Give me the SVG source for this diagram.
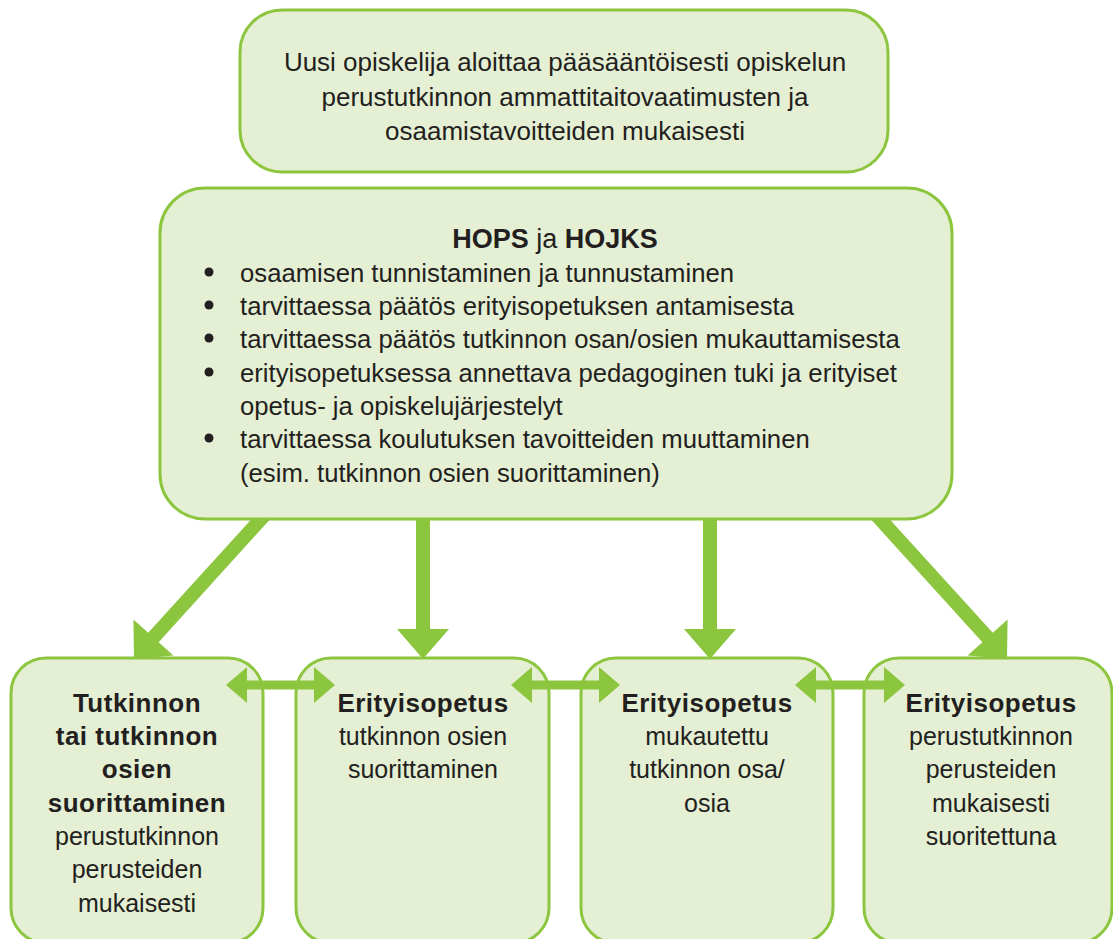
<svg xmlns="http://www.w3.org/2000/svg" width="1113" height="939" viewBox="0 0 1113 939">
<style>
.box{fill:#e5efd4;stroke:#8cc63f;stroke-width:3}
.arr{fill:#8cc63f}
text{font-family:"Liberation Sans",Arial,sans-serif;fill:#231f20}
.t{font-size:26px;text-anchor:middle}
.l{font-size:25.7px}
.h{font-size:27px;text-anchor:middle}
.b{font-weight:bold}
.bt{font-size:26px;font-weight:bold;text-anchor:middle;letter-spacing:0.5px}
.r{font-size:25px;text-anchor:middle}
.dot{fill:#231f20}
</style>
<rect width="1113" height="939" fill="#ffffff"/>
<g id="node-start">
<rect class="box" x="240" y="10" width="648" height="162" rx="42"/>
<text class="t" x="565" y="71">Uusi opiskelija aloittaa pääsääntöisesti opiskelun</text>
<text class="t" x="565" y="106">perustutkinnon ammattitaitovaatimusten ja</text>
<text class="t" x="565" y="140">osaamistavoitteiden mukaisesti</text>
</g>
<g id="node-hops">
<rect class="box" x="160" y="188" width="792" height="331" rx="45"/>
<text class="h" x="555" y="248"><tspan class="b">HOPS</tspan> ja <tspan class="b">HOJKS</tspan></text>
<circle class="dot" cx="209" cy="272" r="4.5"/>
<circle class="dot" cx="209" cy="305" r="4.5"/>
<circle class="dot" cx="209" cy="338" r="4.5"/>
<circle class="dot" cx="209" cy="372" r="4.5"/>
<circle class="dot" cx="209" cy="438" r="4.5"/>
<text class="l" x="240" y="282">osaamisen tunnistaminen ja tunnustaminen</text>
<text class="l" x="240" y="315">tarvittaessa päätös erityisopetuksen antamisesta</text>
<text class="l" x="240" y="348">tarvittaessa päätös tutkinnon osan/osien mukauttamisesta</text>
<text class="l" x="240" y="382">erityisopetuksessa annettava pedagoginen tuki ja erityiset</text>
<text class="l" x="240" y="415">opetus- ja opiskelujärjestelyt</text>
<text class="l" x="240" y="448">tarvittaessa koulutuksen tavoitteiden muuttaminen</text>
<text class="l" x="240" y="482">(esim. tutkinnon osien suorittaminen)</text>
</g>
<g id="node-tutkinto">
<rect class="box" x="11" y="658" width="252" height="285" rx="35"/>
<text class="bt" x="137" y="712">Tutkinnon</text>
<text class="bt" x="137" y="745">tai tutkinnon</text>
<text class="bt" x="137" y="778">osien</text>
<text class="bt" x="137" y="812">suorittaminen</text>
<text class="r" x="137" y="845">perustutkinnon</text>
<text class="r" x="137" y="878">perusteiden</text>
<text class="r" x="137" y="912">mukaisesti</text>
</g>
<g id="node-erityis-osat">
<rect class="box" x="296" y="658" width="253" height="285" rx="35"/>
<text class="bt" x="423" y="712">Erityisopetus</text>
<text class="r" x="423" y="745">tutkinnon osien</text>
<text class="r" x="423" y="778">suorittaminen</text>
</g>
<g id="node-erityis-mukautettu">
<rect class="box" x="581" y="658" width="252" height="285" rx="35"/>
<text class="bt" x="707" y="712">Erityisopetus</text>
<text class="r" x="707" y="745">mukautettu</text>
<text class="r" x="707" y="778">tutkinnon osa/</text>
<text class="r" x="707" y="812">osia</text>
</g>
<g id="node-erityis-perusteet">
<rect class="box" x="864" y="658" width="248" height="285" rx="35"/>
<text class="bt" x="991" y="712">Erityisopetus</text>
<text class="r" x="991" y="745">perustutkinnon</text>
<text class="r" x="991" y="778">perusteiden</text>
<text class="r" x="991" y="812">mukaisesti</text>
<text class="r" x="991" y="845">suoritettuna</text>
</g>
<g id="connectors">
<polygon class="arr" points="251.6,519 270.4,519 158.6,642.2 173.4,655.6 134,659 133.4,619.4 148.2,632.8"/>
<polygon class="arr" points="416,519 430,519 430,629 449,629 423,659 397,629 416,629"/>
<polygon class="arr" points="703,519 717,519 717,629 736,629 710,659 684,629 703,629"/>
<polygon class="arr" points="889.4,519 870.6,519 982.4,642.2 967.6,655.6 1007,659 1007.6,619.4 992.8,632.8"/>
<polygon class="arr" points="226,685 247,667 247,680.5 314,680.5 314,667 335,685 314,703 314,689.5 247,689.5 247,703"/>
<polygon class="arr" points="511,685 532,667 532,680.5 599,680.5 599,667 620,685 599,703 599,689.5 532,689.5 532,703"/>
<polygon class="arr" points="795,685 816,667 816,680.5 884,680.5 884,667 905,685 884,703 884,689.5 816,689.5 816,703"/>
</g>
</svg>
